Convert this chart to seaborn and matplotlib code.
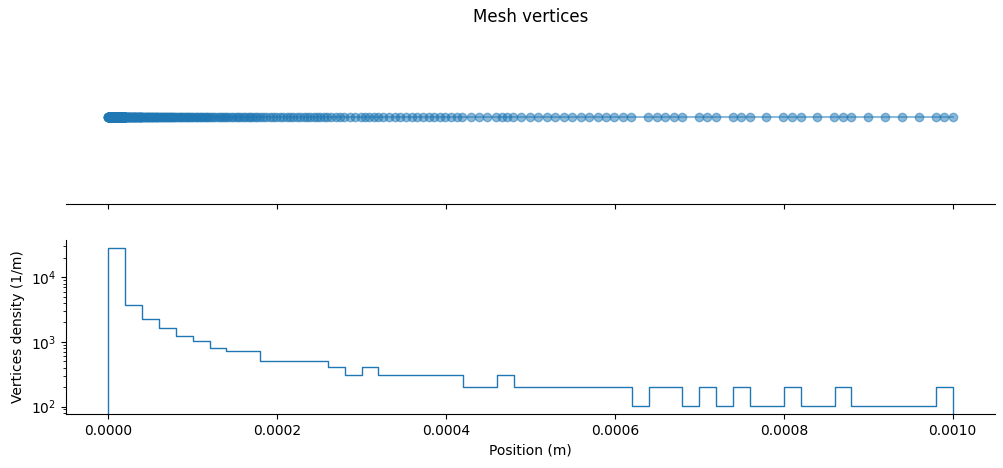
import numpy as np
import pandas as pd
import seaborn as sns
import matplotlib.pyplot as plt

# bins of the vertex histogram (m)
bin_edges = np.linspace(0.0, 0.001, 51)

# vertices counted in each bin
bin_counts = [280, 37, 22, 16, 12, 10, 8, 7, 7, 5,
              5, 5, 5, 4, 3, 4, 3, 3, 3, 3,
              3, 2, 2, 3, 2, 2, 2, 2, 2, 2,
              2, 1, 2, 2, 1, 2, 1, 2, 1, 1,
              2, 1, 1, 2, 1, 1, 1, 1, 1, 2]

# vertex positions: each bin's count spread across that bin
cum = np.concatenate([[0], np.cumsum(bin_counts)])
n_vert = int(cum[-1])
positions = np.interp(np.linspace(0, n_vert, n_vert), cum, bin_edges)

df_bins = pd.DataFrame({
    "mid": (bin_edges[:-1] + bin_edges[1:]) / 2,
    "count": bin_counts,
})

fig, (ax_top, ax_bot) = plt.subplots(2, 1, sharex=True, figsize=(10.04, 4.68))
plt.subplots_adjust(left=0.0657, right=0.991, bottom=0.1154, top=0.936, hspace=0.207)

# top: the mesh itself
sns.lineplot(x=positions, y=np.zeros(n_vert), marker="o", alpha=0.5,
             color="C0", markeredgecolor="C0", markeredgewidth=1,
             sort=False, ax=ax_top)
ax_top.set_title("Mesh vertices")
ax_top.set_yticks([])
ax_top.set_ylabel("")
sns.despine(ax=ax_top, left=True)

# bottom: vertex density (outline only, closed down to the baseline)
sns.histplot(data=df_bins, x="mid", weights="count", binwidth=0.00002,
             binrange=(0.0, 0.001), stat="density", element="step",
             fill=True, color="C0", facecolor="none", edgecolor="C0", alpha=1,
             linewidth=1, ax=ax_bot)
ax_bot.set_yscale("log")
ax_bot.set_xlabel("Position (m)")
ax_bot.set_ylabel("Vertices density (1/m)")
sns.despine(ax=ax_bot)

fig.savefig("out.png", dpi=100)
